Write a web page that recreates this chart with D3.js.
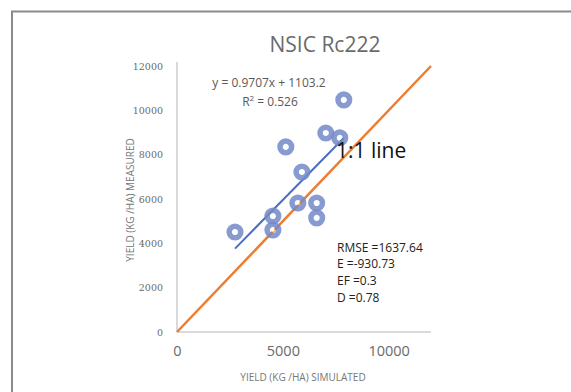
<!DOCTYPE html>
<html>
<head>
<meta charset="utf-8">
<script src="https://cdn.jsdelivr.net/npm/d3@7"></script>
<style>
  html, body { margin: 0; padding: 0; background: #fff; }
  svg { display: block; }
</style>
</head>
<body>
<svg id="chart" width="571" height="392"></svg>
<script>
// Simulated vs measured grain yield (kg/ha), NSIC Rc222
const simulated = [2740, 4530, 4530, 5140, 5900, 5710, 6600, 6600, 7030, 7690, 7880];
const measured  = [4510, 5230, 4600, 8350, 7220, 5820, 5820, 5150, 8980, 8760, 10470];
const yTicks = [0, 2000, 4000, 6000, 8000, 10000, 12000];
const xTicks = [0, 5000, 10000];
const trendSlope = 0.9707;
const trendIntercept = 1103.2;
const statLines = ["RMSE =1637.64", "E =-930.73", "EF =0.3", "D =0.78"];

const svg = d3.select("#chart");

// outer frame
svg.append("path")
  .attr("d", "M12,392 L12,11.5 L571,11.5")
  .attr("fill", "none")
  .attr("stroke", "#8a8a8a")
  .attr("stroke-width", 2);

const x = d3.scaleLinear().domain([0, 12000]).range([177, 431]);
const y = d3.scaleLinear().domain([0, 12000]).range([332, 66]);

// axes
const gy = svg.append("g").attr("transform", "translate(177,0)")
  .call(d3.axisLeft(y).tickValues(yTicks).tickSize(0).tickPadding(14).tickFormat(d3.format("d")));
gy.select(".domain").attr("stroke", "#d9d9d9").attr("stroke-width", 2)
  .attr("d", `M0,${y(0)}V${y(12000) - 4}`);
gy.selectAll("text").attr("font-family", "'DejaVu Serif', serif")
  .attr("font-size", 9.5).attr("fill", "#6a6a6a");

const gx = svg.append("g").attr("transform", "translate(0,332)")
  .call(d3.axisBottom(x).tickValues(xTicks).tickSize(0).tickPadding(14).tickFormat(d3.format("d")));
gx.select(".domain").attr("stroke", "#d9d9d9").attr("stroke-width", 2)
  .attr("d", `M${x(0)},0H${x(12000)}`);
gx.selectAll("text").attr("font-family", "'Open Sans', sans-serif")
  .attr("font-size", 14.5).attr("fill", "#6a6a6a");

// 1:1 line
svg.append("line")
  .attr("x1", x(0)).attr("y1", y(0))
  .attr("x2", x(12000)).attr("y2", y(12000))
  .attr("stroke", "#ed7d31").attr("stroke-width", 2.5);

// linear trendline over the simulated range
const xMin = d3.min(simulated), xMax = d3.max(simulated);
svg.append("line")
  .attr("x1", x(xMin)).attr("y1", y(trendSlope * xMin + trendIntercept))
  .attr("x2", x(xMax)).attr("y2", y(trendSlope * xMax + trendIntercept))
  .attr("stroke", "#4a6fbf").attr("stroke-width", 2);

// observations
const pts = svg.append("g").selectAll("g")
  .data(simulated.map((s, i) => ({ s, m: measured[i] })))
  .join("g")
  .attr("transform", d => `translate(${x(d.s)},${y(d.m)})`);
pts.append("circle").attr("r", 5.8)
  .attr("fill", "none").attr("stroke", "#7389c8").attr("stroke-width", 5.5).attr("opacity", 0.85);
pts.append("circle").attr("r", 1.8).attr("fill", "#fff");

// title
svg.append("text").attr("x", 325).attr("y", 52).attr("text-anchor", "middle")
  .attr("font-family", "'Open Sans', sans-serif").attr("font-size", 21).attr("fill", "#6b6b6b")
  .text("NSIC Rc222");

// trendline equation
svg.append("text").attr("x", 269).attr("y", 87).attr("text-anchor", "middle")
  .attr("font-family", "'Open Sans', sans-serif").attr("font-size", 12).attr("fill", "#595959")
  .text("y = 0.9707x + 1103.2");
const r2 = svg.append("text").attr("x", 270).attr("y", 106).attr("text-anchor", "middle")
  .attr("font-family", "'Open Sans', sans-serif").attr("font-size", 12).attr("fill", "#595959");
r2.append("tspan").text("R");
r2.append("tspan").attr("dy", -5).attr("font-size", 8).text("2");
r2.append("tspan").attr("dy", 5).text(" = 0.526");

// 1:1 label
svg.append("text").attr("x", 336).attr("y", 158)
  .attr("font-family", "'Open Sans', sans-serif").attr("font-size", 21).attr("fill", "#111")
  .text("1:1 line");

// goodness-of-fit statistics
svg.append("g").selectAll("text").data(statLines).join("text")
  .attr("x", 337).attr("y", (d, i) => 251.5 + i * 16.7)
  .attr("font-family", "'Open Sans', sans-serif").attr("font-size", 12).attr("fill", "#222")
  .text(d => d);

// axis titles
svg.append("text").attr("x", 303).attr("y", 381).attr("text-anchor", "middle")
  .attr("font-family", "'Open Sans', sans-serif").attr("font-size", 10).attr("fill", "#777")
  .text("YIELD (KG /HA) SIMULATED");
svg.append("text").attr("transform", "translate(134,200) rotate(-90)").attr("text-anchor", "middle")
  .attr("font-family", "'Open Sans', sans-serif").attr("font-size", 10).attr("fill", "#777")
  .text("YIELD (KG /HA) MEASURED");
</script>
</body>
</html>
